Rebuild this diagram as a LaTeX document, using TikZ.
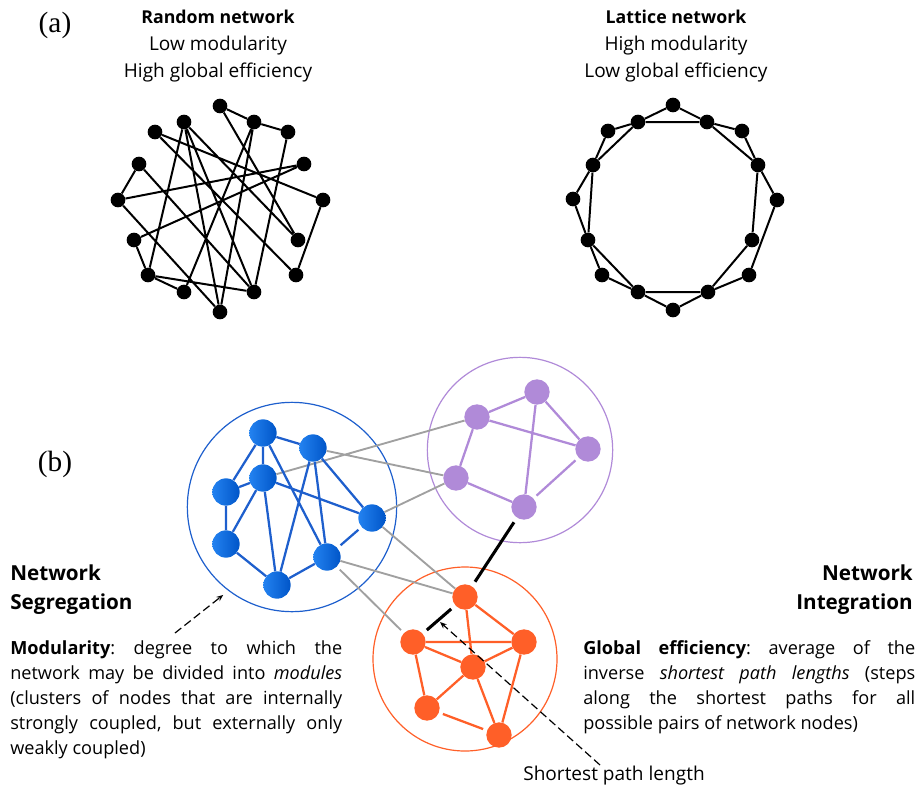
\documentclass[tikz,border=0pt]{standalone}
\usepackage{fontspec}
\setmainfont{Open Sans}
\newfontfamily\panelfont{Liberation Serif}
\definecolor{netblue}{RGB}{30, 95, 205}
\definecolor{netbluelt}{RGB}{35, 130, 240}
\definecolor{netbluedk}{RGB}{0, 85, 200}
\definecolor{netpurple}{RGB}{176, 138, 216}
\definecolor{netorange}{RGB}{255, 95, 40}
\definecolor{linkgray}{RGB}{160, 160, 160}
\usetikzlibrary{arrows.meta, positioning, calc}

\begin{document}
\begin{tikzpicture}[x=0.75pt, y=-0.75pt,
  rdot/.style={circle, fill=black, inner sep=0pt, minimum size=11pt},
  netlink/.style={line width=1.5pt},
  bluenode/.style={circle, inner sep=0pt, minimum size=20.5pt, left color=netbluelt, right color=netbluedk},
  purplenode/.style={circle, inner sep=0pt, minimum size=19pt, fill=netpurple},
  orangenode/.style={circle, inner sep=0pt, minimum size=19pt, fill=netorange},
  clusteredge/.style={line width=1.7pt, shorten >=3pt, shorten <=3pt},
  grayedge/.style={linkgray, line width=1.4pt, shorten >=3pt, shorten <=3pt},
  pathedge/.style={black, line width=2.3pt, shorten >=4pt, shorten <=4pt},
  ring/.style={circle, draw, line width=0.9pt, inner sep=0pt},
  headtext/.style={font=\fontsize{14.3}{20.25}\selectfont, align=center},
  bigtitle/.style={font=\fontsize{15.5}{21.75}\selectfont\bfseries, inner sep=0pt},
  bodytext/.style={font=\fontsize{13.6}{18.75}\selectfont\frenchspacing, text width=249pt, align=justify, inner sep=0pt},
  pointer/.style={-{Stealth[length=5pt, width=4pt]}, dash pattern=on 6pt off 3pt, line width=0.9pt}]

  \useasboundingbox (0,0) rectangle (916,792);

  % Panel labels
  \node[font=\panelfont\fontsize{22}{24}\selectfont] (panela) at (55,25) {(a)};
  \node[font=\panelfont\fontsize{22}{24}\selectfont] (panelb) at (55,464) {(b)};

  % Headings of panel (a)
  \node[headtext] (randomhead) at (218,46) {{\fontsize{13.3}{20.25}\selectfont\textbf{Random network}}\\Low modularity\\High global efficiency};
  \node[headtext] (latticehead) at (676,46) {{\fontsize{13.3}{20.25}\selectfont\textbf{Lattice network}}\\High modularity\\Low global efficiency};

  % Random network
  \node[rdot] (r1) at (220,106) {};
  \node[rdot] (r2) at (254,122) {};
  \node[rdot] (r3) at (288,132) {};
  \node[rdot] (r4) at (184,122) {};
  \node[rdot] (r5) at (155,132) {};
  \node[rdot] (r6) at (139,164) {};
  \node[rdot] (r7) at (304,164) {};
  \node[rdot] (r8) at (118,200) {};
  \node[rdot] (r9) at (323,200) {};
  \node[rdot] (r10) at (134,240) {};
  \node[rdot] (r11) at (298,240) {};
  \node[rdot] (r12) at (148,275) {};
  \node[rdot] (r13) at (296,275) {};
  \node[rdot] (r14) at (184,292) {};
  \node[rdot] (r15) at (254,292) {};
  \node[rdot] (r16) at (220,312) {};

  \draw[netlink] (r1) -- (r2) (r2) -- (r3) (r1) -- (r11) (r4) -- (r11) (r4) -- (r15)
    (r4) -- (r12) (r4) -- (r16) (r5) -- (r9) (r5) -- (r13) (r2) -- (r14) (r2) -- (r16)
    (r3) -- (r15) (r6) -- (r8) (r6) -- (r15) (r7) -- (r8) (r7) -- (r10) (r8) -- (r16)
    (r9) -- (r13) (r10) -- (r12) (r12) -- (r14) (r12) -- (r15);

  % Lattice network
  \node[rdot] (l1) at (673,105) {};
  \node[rdot] (l2) at (707,122) {};
  \node[rdot] (l3) at (742,131) {};
  \node[rdot] (l4) at (758,165) {};
  \node[rdot] (l5) at (777,200) {};
  \node[rdot] (l6) at (752,240) {};
  \node[rdot] (l7) at (749,275) {};
  \node[rdot] (l8) at (708,292) {};
  \node[rdot] (l9) at (673,310) {};
  \node[rdot] (l10) at (638,292) {};
  \node[rdot] (l11) at (602,275) {};
  \node[rdot] (l12) at (588,240) {};
  \node[rdot] (l13) at (573,199) {};
  \node[rdot] (l14) at (593,165) {};
  \node[rdot] (l15) at (608,131) {};
  \node[rdot] (l16) at (638,122) {};

  \draw[netlink] (l1) -- (l2) (l1) -- (l16) (l2) -- (l16) (l2) -- (l3) (l3) -- (l4) (l2) -- (l4)
    (l4) -- (l5) (l4) -- (l6) (l5) -- (l7) (l6) -- (l8) (l7) -- (l8) (l8) -- (l9) (l9) -- (l10)
    (l8) -- (l10) (l10) -- (l11) (l10) -- (l12) (l11) -- (l12) (l12) -- (l13) (l12) -- (l14)
    (l13) -- (l14) (l14) -- (l15) (l14) -- (l16) (l15) -- (l16);

  % Modules of panel (b)
  \node[ring, draw=netblue, minimum size=157pt] (bluering) at (292,507) {};
  \node[ring, draw=netpurple, minimum size=139pt] (purplering) at (520,450) {};
  \node[ring, draw=netorange, minimum size=138pt] (orangering) at (465,659) {};

  \node[bluenode] (b1) at (263,433) {};
  \node[bluenode] (b2) at (313,448) {};
  \node[bluenode] (b3) at (263,478) {};
  \node[bluenode] (b4) at (226,492) {};
  \node[bluenode] (b5) at (372,518) {};
  \node[bluenode] (b6) at (226,544) {};
  \node[bluenode] (b7) at (327,557) {};
  \node[bluenode] (b8) at (277,585) {};

  \node[purplenode] (p1) at (537,392) {};
  \node[purplenode] (p2) at (477,417) {};
  \node[purplenode] (p3) at (588,449) {};
  \node[purplenode] (p4) at (456,478) {};
  \node[purplenode] (p5) at (524,507) {};

  \node[orangenode] (o1) at (465,597) {};
  \node[orangenode] (o2) at (413,642) {};
  \node[orangenode] (o3) at (524,642) {};
  \node[orangenode] (o4) at (473,667) {};
  \node[orangenode] (o5) at (427,708) {};
  \node[orangenode] (o6) at (499,735) {};

  % Links between modules
  \draw[grayedge] (b3) -- (p2) (b2) -- (p4) (b5) -- (p4) (b5) -- (o1) (b7) -- (o1) (b7) -- (o2);
  \draw[pathedge] (p5) -- (o1);
  \draw[pathedge] (o1) -- (o2);

  % Links inside modules
  \draw[clusteredge, netblue] (b1) -- (b2) (b1) -- (b3) (b1) -- (b4) (b1) -- (b7) (b3) -- (b4)
    (b3) -- (b5) (b3) -- (b6) (b3) -- (b8) (b2) -- (b8) (b2) -- (b7) (b2) -- (b5) (b4) -- (b6)
    (b6) -- (b8) (b8) -- (b7) (b7) -- (b5);
  \draw[clusteredge, netpurple] (p1) -- (p2) (p1) -- (p3) (p1) -- (p5) (p2) -- (p3) (p2) -- (p4)
    (p4) -- (p5) (p5) -- (p3);
  \draw[clusteredge, netorange] (o1) -- (o3) (o1) -- (o4) (o2) -- (o3) (o2) -- (o4) (o2) -- (o5)
    (o3) -- (o4) (o3) -- (o6) (o4) -- (o5) (o4) -- (o6) (o5) -- (o6);

  % Segregation
  \node[bigtitle, anchor=north west, align=left] (seghead) at (10,565) {Network\\Segregation};
  \node[bodytext, anchor=north west] (segtext) at (10,640) {\textbf{Modularity}: degree to which the\linebreak
    network may be divided into \emph{modules}\linebreak
    (clusters of nodes that are internally\linebreak
    strongly coupled, but externally only\linebreak
    weakly coupled)};
  \coordinate (segtail) at (175,633);
  \draw[pointer] (segtail) -- ($(bluering.232)+(-4,5)$);

  % Integration
  \node[bigtitle, anchor=north east, align=right] (inthead) at (913,565) {Network\\Integration};
  \node[bodytext, anchor=north west] (inttext) at (583,640) {\textbf{Global efficiency}: average of the\linebreak
    inverse \emph{shortest path lengths} (steps\linebreak
    along the shortest paths for all\linebreak
    possible pairs of network nodes)};

  % Shortest path
  \node[font=\fontsize{14.3}{16}\selectfont] (splabel) at (614,776) {Shortest path length};
  \coordinate (sptail) at (600,765);
  \coordinate (sphead) at (440,622);
  \draw[pointer] (sptail) -- (sphead);
\end{tikzpicture}
\end{document}
